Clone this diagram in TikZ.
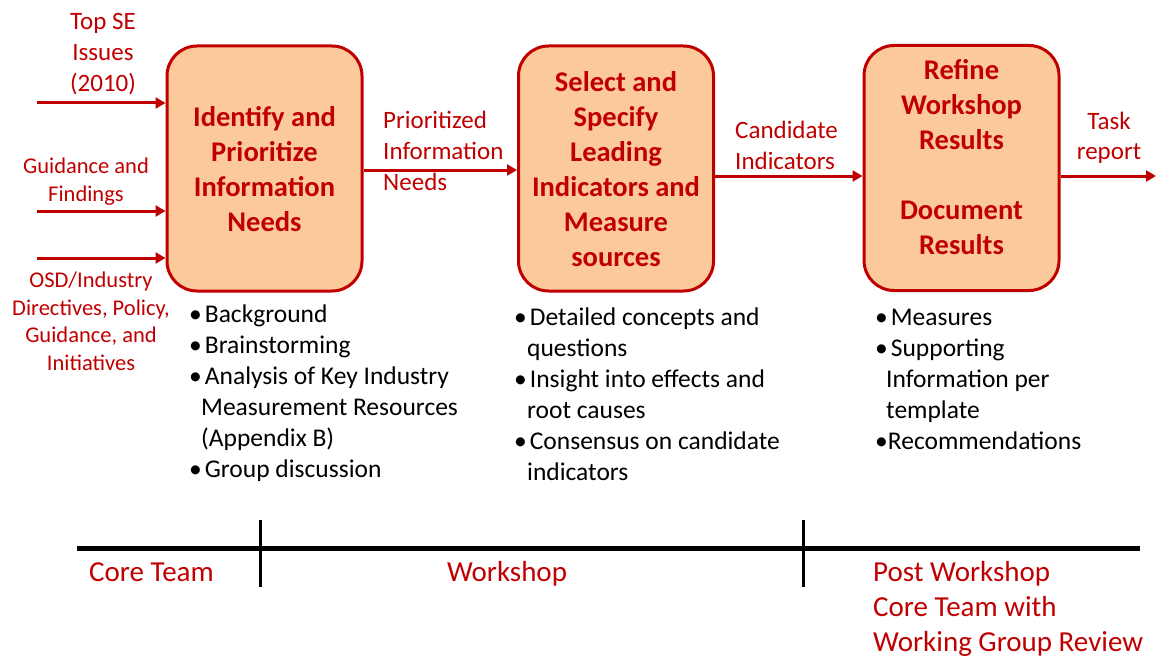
\documentclass[tikz,border=0pt]{standalone}
\usepackage{fontspec}
\setmainfont{Carlito}
\usetikzlibrary{arrows.meta}
\definecolor{darkred}{HTML}{C00000}
\definecolor{peach}{HTML}{FCCA9A}
\newcommand{\bul}{\textbullet\hspace{3pt}}

\begin{document}
\begin{tikzpicture}[x=1pt,y=-1pt,
  stepbox/.style={draw=darkred,line width=3pt,fill=peach,rounded corners=30pt,
    minimum width=195pt,minimum height=245pt,inner sep=0pt},
  steptext/.style={text=darkred,align=center,inner sep=0pt,
    font=\fontsize{28.5}{35}\selectfont\bfseries},
  flow/.style={draw=darkred,line width=3pt,-{Triangle[length=10pt,width=11pt]}},
  redlabel/.style={text=darkred,inner sep=0pt,font=\fontsize{25}{31}\selectfont},
  smalllabel/.style={text=darkred,inner sep=0pt,align=center,anchor=base,
    font=\fontsize{22.5}{27.5}\selectfont},
  bullets/.style={inner sep=0pt,anchor=base west,align=left,
    font=\fontsize{25.5}{31}\selectfont},
  phase/.style={text=darkred,inner sep=0pt,anchor=base west,align=left,
    font=\fontsize{29}{35}\selectfont}]
  \useasboundingbox (0,0) rectangle (1156,658);

  % process steps
  \node[stepbox] (identify) at (264.5,168.5) {};
  \node[stepbox] (select) at (616,168.5) {};
  \node[stepbox] (refine) at (961.5,168) {};
  \node[steptext] (identifytext) at (264.5,169) {Identify and\\Prioritize\\Information\\Needs};
  \node[steptext] (selecttext) at (616,169) {Select and\\Specify\\Leading\\Indicators and\\Measure\\sources};
  \node[steptext] (refinetext) at (961.5,157) {Refine\\Workshop\\Results\\[35pt]Document\\Results};

  % inputs and outputs
  \coordinate (in1) at (37,103);
  \coordinate (in2) at (37,211);
  \coordinate (in3) at (37,258);
  \coordinate (out) at (1156,176);
  \draw[flow] (in1) -- (in1 -| identify.west);
  \draw[flow] (in2) -- (in2 -| identify.west);
  \draw[flow] (in3) -- (in3 -| identify.west);
  \draw[flow] ([yshift=-1.5pt]identify.east) -- ([yshift=-1.5pt]select.west);
  \draw[flow] ([yshift=-7.5pt]select.east) -- ([yshift=-7.5pt]select.east -| refine.west);
  \draw[flow] (refine.east |- out) -- (out);

  \node[redlabel,align=center,anchor=base] (topse) at (103,92) {Top SE\\Issues\\(2010)};
  \node[smalllabel] (guidance) at (86,201) {Guidance and\\Findings};
  \node[smalllabel] (osd) at (91,370) {OSD/Industry\\Directives, Policy,\\Guidance, and\\Initiatives};
  \node[redlabel,align=left,anchor=base west] (prioritized) at (383,190) {Prioritized\\Information\\Needs};
  \node[redlabel,align=left,anchor=base west] (candidate) at (735,169) {Candidate\\Indicators};
  \node[redlabel,align=center,anchor=base] (task) at (1109,160) {Task\\report};

  % activities under each step
  \node[bullets] (identifylist) at (189,477) {\bul Background\\
    \bul Brainstorming\\
    \bul Analysis of Key Industry\\
    \hspace*{12pt}Measurement Resources\\
    \hspace*{12pt}(Appendix B)\\
    \bul Group discussion};
  \node[bullets] (selectlist) at (514,480) {\bul Detailed concepts and\\
    \hspace*{13pt}questions\\
    \bul Insight into effects and\\
    \hspace*{13pt}root causes\\
    \bul Consensus on candidate\\
    \hspace*{13pt}indicators};
  \node[bullets] (refinelist) at (875,449) {\bul Measures\\
    \bul Supporting\\
    \hspace*{11pt}Information per\\
    \hspace*{11pt}template\\
    \textbullet Recommendations};

  % timeline
  \coordinate (tlstart) at (77,548);
  \coordinate (tlend) at (1140,548);
  \coordinate (tick1) at (260,520);
  \coordinate (tick2) at (803,520);
  \draw[line width=5pt] (tlstart) -- (tlend);
  \draw[line width=3pt] (tick1) -- ++(0,67);
  \draw[line width=3pt] (tick2) -- ++(0,67);
  \node[phase] (coreteam) at (89,581) {Core Team};
  \node[phase,anchor=base] (workshop) at (507,581) {Workshop};
  \node[phase] (post) at (873,651) {Post Workshop\\Core Team with\\Working Group Review};
\end{tikzpicture}
\end{document}
